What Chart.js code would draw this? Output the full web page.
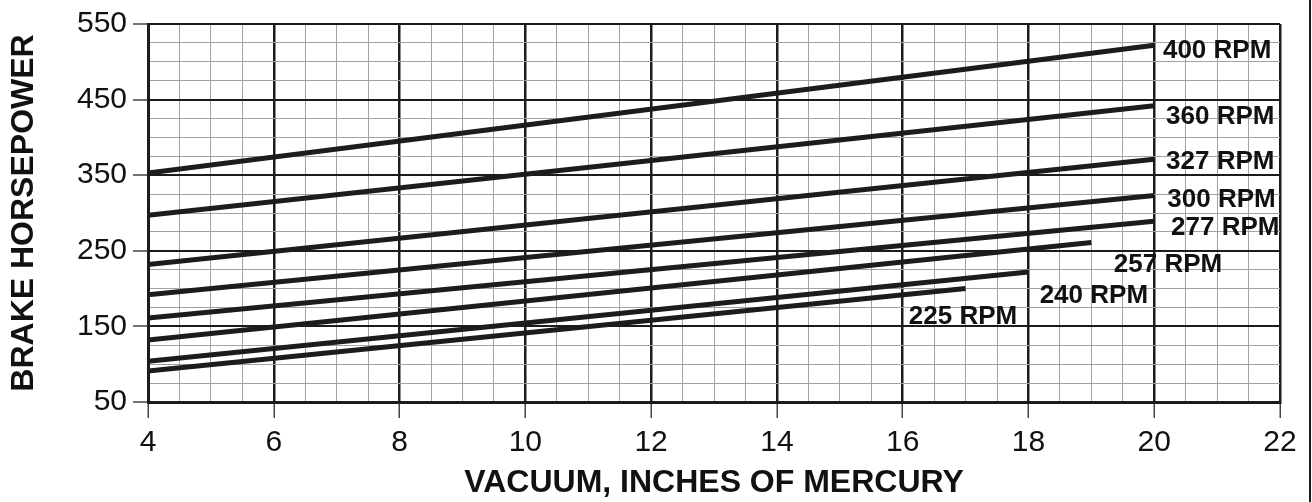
<!DOCTYPE html>
<html>
<head>
<meta charset="utf-8">
<script src="https://cdn.jsdelivr.net/npm/chart.js@4.4.0/dist/chart.umd.min.js"></script>
<style>
  html, body { margin: 0; padding: 0; background: #fff; }
  #wrap { position: relative; width: 1312px; height: 502px; }
</style>
</head>
<body>
<div id="wrap"><canvas id="hp-graph"></canvas></div>
<script>
// brake horsepower vs vacuum, one straight line per engine speed
const rpm = ['400 RPM', '360 RPM', '327 RPM', '300 RPM', '277 RPM', '257 RPM', '240 RPM', '225 RPM']
const vacuumStart = [4, 4, 4, 4, 4, 4, 4, 4]
const vacuumEnd = [20, 20, 20, 20, 20, 19, 18, 17]
const hpStart = [353, 297, 232, 192, 161, 132, 104, 91]
const hpEnd = [522, 442, 371, 323, 289, 261, 222, 200]

const xTicks = [4, 6, 8, 10, 12, 14, 16, 18, 20, 22]
const yTicks = [50, 150, 250, 350, 450, 550]

// where each rpm label sits, in chart units (vacuum, hp)
const labelVacuum = [21.0, 21.05, 21.05, 21.07, 21.13, 20.22, 19.04, 16.96]
const labelHp = [514, 427, 368, 318, 280, 231, 190, 162]

const ink = '#1c1c1c'
const minor = '#a3a3a3'

Chart.defaults.font.family = "'Liberation Sans', Arial, sans-serif"
Chart.defaults.color = '#111'

const rpmLabels = {
  id: 'rpmLabels',
  afterDatasetsDraw(chart) {
    const { ctx, scales: { x, y } } = chart
    ctx.save()
    ctx.font = "bold 26px 'Liberation Sans', Arial, sans-serif"
    ctx.fillStyle = '#111'
    ctx.textAlign = 'center'
    ctx.textBaseline = 'middle'
    rpm.forEach((t, i) => {
      ctx.fillText(t, x.getPixelForValue(labelVacuum[i]), y.getPixelForValue(labelHp[i]))
    })
    ctx.restore()
  },
  afterDraw(chart) {
    // frame line on the right edge of the picture
    const { ctx } = chart
    ctx.save()
    ctx.fillStyle = ink
    ctx.fillRect(chart.width - 3, 0, 2, chart.height)
    ctx.restore()
  }
}

const datasets = rpm.map((name, i) => ({
  label: name,
  data: [{ x: vacuumStart[i], y: hpStart[i] }, { x: vacuumEnd[i], y: hpEnd[i] }],
  borderColor: ink,
  borderWidth: 5,
  pointRadius: 0,
  borderCapStyle: 'butt',
  fill: false
}))

const isMajorX = v => xTicks.includes(v)
const isMajorY = v => yTicks.includes(v)

new Chart(document.getElementById('hp-graph'), {
  type: 'line',
  data: { datasets },
  options: {
    responsive: true,
    maintainAspectRatio: false,
    animation: false,
    layout: { padding: { left: 0, top: 23, right: 32, bottom: 0 } },
    plugins: { legend: { display: false }, tooltip: { enabled: false } },
    scales: {
      x: {
        type: 'linear',
        min: 4,
        max: 22,
        afterFit: s => { s.height = 100 },
        ticks: {
          stepSize: 0.5,
          autoSkip: false,
          maxRotation: 0,
          padding: 7,
          font: { size: 30 },
          color: '#111',
          callback: v => (isMajorX(v) ? v : '')
        },
        grid: {
          color: c => (isMajorX(c.tick.value) ? ink : minor),
          lineWidth: c => (isMajorX(c.tick.value) ? 2.5 : 1),
          tickColor: c => (isMajorX(c.tick.value) ? '#444' : 'rgba(0,0,0,0)'),
          tickLength: 16,
          tickWidth: 1.5
        },
        border: { color: ink, width: 3 },
        title: {
          display: true,
          text: 'VACUUM, INCHES OF MERCURY',
          font: { size: 32, weight: 'bold' },
          color: '#111',
          padding: { top: 0, bottom: 0 }
        }
      },
      y: {
        min: 50,
        max: 550,
        afterFit: s => { s.width = 148 },
        ticks: {
          stepSize: 25,
          autoSkip: false,
          padding: 6,
          font: { size: 30 },
          color: '#111',
          callback: v => (isMajorY(v) ? v : '')
        },
        grid: {
          color: c => (isMajorY(c.tick.value) ? ink : minor),
          lineWidth: c => (isMajorY(c.tick.value) ? 2 : 1),
          tickColor: c => (isMajorY(c.tick.value) ? '#444' : 'rgba(0,0,0,0)'),
          tickLength: 15,
          tickWidth: 1.5
        },
        border: { color: ink, width: 3 },
        title: {
          display: true,
          text: 'BRAKE HORSEPOWER',
          font: { size: 32, weight: 'bold' },
          color: '#111',
          padding: { top: 5, bottom: 0 }
        }
      }
    }
  },
  plugins: [rpmLabels]
})
</script>
</body>
</html>
